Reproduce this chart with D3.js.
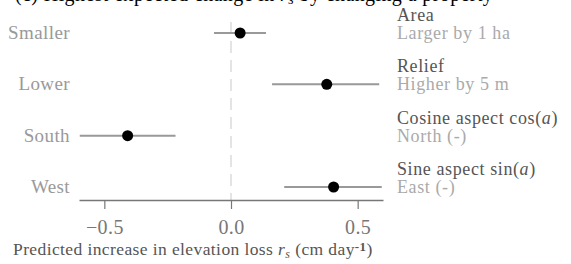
<!DOCTYPE html>
<html><head><meta charset="utf-8">
<script src="https://cdn.jsdelivr.net/npm/d3@7/dist/d3.min.js"></script>
<style>body{margin:0;background:#fff}svg{display:block}text{font-family:"Liberation Serif","DejaVu Serif",serif}</style>
</head><body><div id="c"></div>
<script>
const properties = ["Area", "Relief", "Cosine aspect", "Sine aspect"];
const propertyMath = ["", "", "cos", "sin"];
const positiveLabels = ["Larger by 1 ha", "Higher by 5 m", "North (-)", "East (-)"];
const negativeLabels = ["Smaller", "Lower", "South", "West"];
const estimates = [0.036, 0.378, -0.408, 0.405];
const lowerCI = [-0.067, 0.162, -0.597, 0.21];
const upperCI = [0.138, 0.585, -0.219, 0.595];
const xTicks = [-0.5, 0.0, 0.5];
const xDomain = [-0.6, 0.6];

const W = 571, H = 264;
const svg = d3.select("#c").append("svg").attr("width", W).attr("height", H);
const x = d3.scaleLinear().domain(xDomain).range([79, 383]);
const y = d3.scalePoint().domain(d3.range(properties.length)).range([33, 187]);
const axisY = 200;
const LS = "0.4px";

// title (partly cut off at the top, as in the reference)
const title = svg.append("text").attr("x", 15).attr("y", 1).attr("fill", "#000")
  .style("font-size", "20px").style("letter-spacing", LS);
title.append("tspan").text("(c) Highest expected change in ");
title.append("tspan").style("font-style", "italic").text("r");
title.append("tspan").style("font-style", "italic").style("font-size", "14px").attr("dy", 3).text("s");
title.append("tspan").attr("dy", -3).text(" by changing a property");

// zero line
svg.append("line").attr("x1", x(0)).attr("x2", x(0)).attr("y1", 22).attr("y2", axisY)
  .attr("stroke", "#dcdcdc").attr("stroke-width", 1.5).attr("stroke-dasharray", "12,7");

// axis
const axis = d3.axisBottom(x).tickValues(xTicks).tickSize(9).tickSizeOuter(0)
  .tickFormat(d => d3.format(".1f")(d).replace("-", "\u2212"));
const gx = svg.append("g").attr("transform", `translate(0,${axisY})`).call(axis);
gx.select(".domain").attr("stroke", "#777").attr("stroke-width", 1.5);
gx.selectAll(".tick line").attr("stroke", "#777").attr("stroke-width", 1.2);
gx.selectAll(".tick text").attr("fill", "#777").attr("dy", 0).attr("y", 34)
  .style("font-size", "20px").style("letter-spacing", LS)
  .style("font-family", "'Liberation Serif',serif");

// x label
const xl = svg.append("text").attr("x", 13).attr("y", 255).attr("fill", "#555")
  .style("font-size", "17.5px").style("letter-spacing", LS);
xl.append("tspan").text("Predicted increase in elevation loss ");
xl.append("tspan").style("font-style", "italic").text("r");
xl.append("tspan").style("font-style", "italic").style("font-size", "12px").attr("dy", 3).text("s");
xl.append("tspan").attr("dy", -3).text(" (cm  day");
xl.append("tspan").style("font-size", "13px").style("font-weight", "bold").attr("dy", -4).text("-1");
xl.append("tspan").attr("dy", 4).text(")");

const rows = svg.append("g").selectAll("g").data(properties).join("g");
rows.append("line")
  .attr("x1", (d, i) => x(lowerCI[i])).attr("x2", (d, i) => x(upperCI[i]))
  .attr("y1", (d, i) => y(i)).attr("y2", (d, i) => y(i))
  .attr("stroke", "#999").attr("stroke-width", 2);
rows.append("circle").attr("cx", (d, i) => x(estimates[i])).attr("cy", (d, i) => y(i))
  .attr("r", 5.5).attr("fill", "#000");
rows.append("text").attr("x", 70).attr("y", (d, i) => y(i) + 6).attr("text-anchor", "end")
  .attr("fill", "#999").style("font-size", "19px").style("letter-spacing", LS)
  .text((d, i) => negativeLabels[i]);
const nm = rows.append("text").attr("x", 397).attr("y", (d, i) => y(i) - 12)
  .attr("fill", "#555").style("font-size", "18px").style("letter-spacing", "0.6px");
nm.append("tspan").text((d, i) => d + (propertyMath[i] ? " " + propertyMath[i] + "(" : ""));
nm.append("tspan").style("font-style", "italic").text((d, i) => propertyMath[i] ? "a" : "");
nm.append("tspan").text((d, i) => propertyMath[i] ? ")" : "");
rows.append("text").attr("x", 397).attr("y", (d, i) => y(i) + 6)
  .attr("fill", "#aaa").style("font-size", "18px").style("letter-spacing", "0.6px")
  .text((d, i) => positiveLabels[i]);
</script></body></html>
